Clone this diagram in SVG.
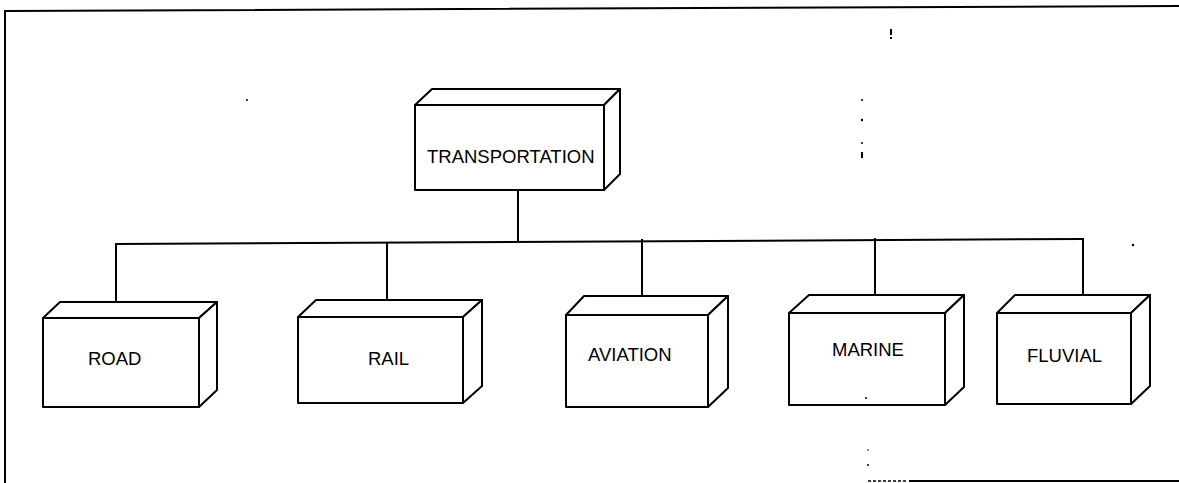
<svg xmlns="http://www.w3.org/2000/svg" width="1179" height="483" viewBox="0 0 1179 483">
<style>
.ln{fill:none;stroke:#000;stroke-width:2;stroke-linecap:square;stroke-linejoin:miter}
.bx{fill:#fff;stroke:#000;stroke-width:2;stroke-linejoin:round}
.lb{font-family:"Liberation Sans",Arial,Helvetica,sans-serif;font-size:18.5px;fill:#000}
.sp{fill:#000}
</style>
<rect width="1179" height="483" fill="#fff"/>
<g id="frame">
<path class="ln" d="M5,11 L1179,6 M5,11 L5,483"/>
<path class="ln" d="M910,481 L1179,481" />
<path d="M868,481 L906,481" fill="none" stroke="#000" stroke-width="1.5" stroke-dasharray="3 2"/>
</g>
<g id="connectors">
<path class="ln" d="M116,244 L1083,239"/>
<path class="ln" d="M518,190 L518,242"/>
<path class="ln" d="M116,244 L116,302"/>
<path class="ln" d="M387,243 L387,304"/>
<path class="ln" d="M642,240 L642,302"/>
<path class="ln" d="M875,239 L875,298"/>
<path class="ln" d="M1083,239 L1083,300"/>
</g>
<g id="transportation">
<rect class="bx" x="415" y="105" width="189" height="85"/>
<path class="bx" d="M415,105 L432,89 L620,89 L604,105 Z"/>
<path class="bx" d="M604,105 L620,89 L620,174 L604,190 Z"/>
<text class="lb" x="427" y="163">TRANSPORTATION</text>
</g>
<g id="road">
<rect class="bx" x="43" y="318" width="156" height="89"/>
<path class="bx" d="M43,318 L60,302 L217,302 L199,318 Z"/>
<path class="bx" d="M199,318 L217,302 L217,390 L199,407 Z"/>
<text class="lb" x="88" y="365">ROAD</text>
</g>
<g id="rail">
<rect class="bx" x="298" y="317" width="165" height="86"/>
<path class="bx" d="M298,317 L316,300 L482,300 L463,317 Z"/>
<path class="bx" d="M463,317 L482,300 L482,386 L463,403 Z"/>
<text class="lb" x="368" y="365">RAIL</text>
</g>
<g id="aviation">
<rect class="bx" x="566" y="315" width="142" height="92"/>
<path class="bx" d="M566,315 L584,296 L728,296 L708,315 Z"/>
<path class="bx" d="M708,315 L728,296 L728,388 L708,407 Z"/>
<text class="lb" x="588" y="361">AVIATION</text>
</g>
<g id="marine">
<rect class="bx" x="789" y="313" width="156" height="92"/>
<path class="bx" d="M789,313 L809,295 L964,295 L945,313 Z"/>
<path class="bx" d="M945,313 L964,295 L964,387 L945,405 Z"/>
<text class="lb" x="832" y="356">MARINE</text>
</g>
<g id="fluvial">
<rect class="bx" x="997" y="313" width="134" height="91"/>
<path class="bx" d="M997,313 L1015,295 L1150,295 L1131,313 Z"/>
<path class="bx" d="M1131,313 L1150,295 L1150,386 L1131,404 Z"/>
<text class="lb" x="1027" y="362">FLUVIAL</text>
</g>
<g id="specks">
<rect class="sp" x="890" y="29" width="2" height="6"/>
<rect class="sp" x="890" y="37" width="2" height="2"/>
<circle class="sp" cx="862" cy="100" r="1"/>
<circle class="sp" cx="862" cy="120" r="1.2"/>
<circle class="sp" cx="862" cy="143" r="1"/>
<rect class="sp" x="861" y="152" width="2" height="6"/>
<circle class="sp" cx="247" cy="100" r="1"/>
<circle class="sp" cx="1133" cy="245" r="1.2"/>
<circle class="sp" cx="866" cy="398" r="1"/>
<circle class="sp" cx="868" cy="450" r="0.8"/>
<circle class="sp" cx="868" cy="465" r="1"/>
</g>
</svg>
